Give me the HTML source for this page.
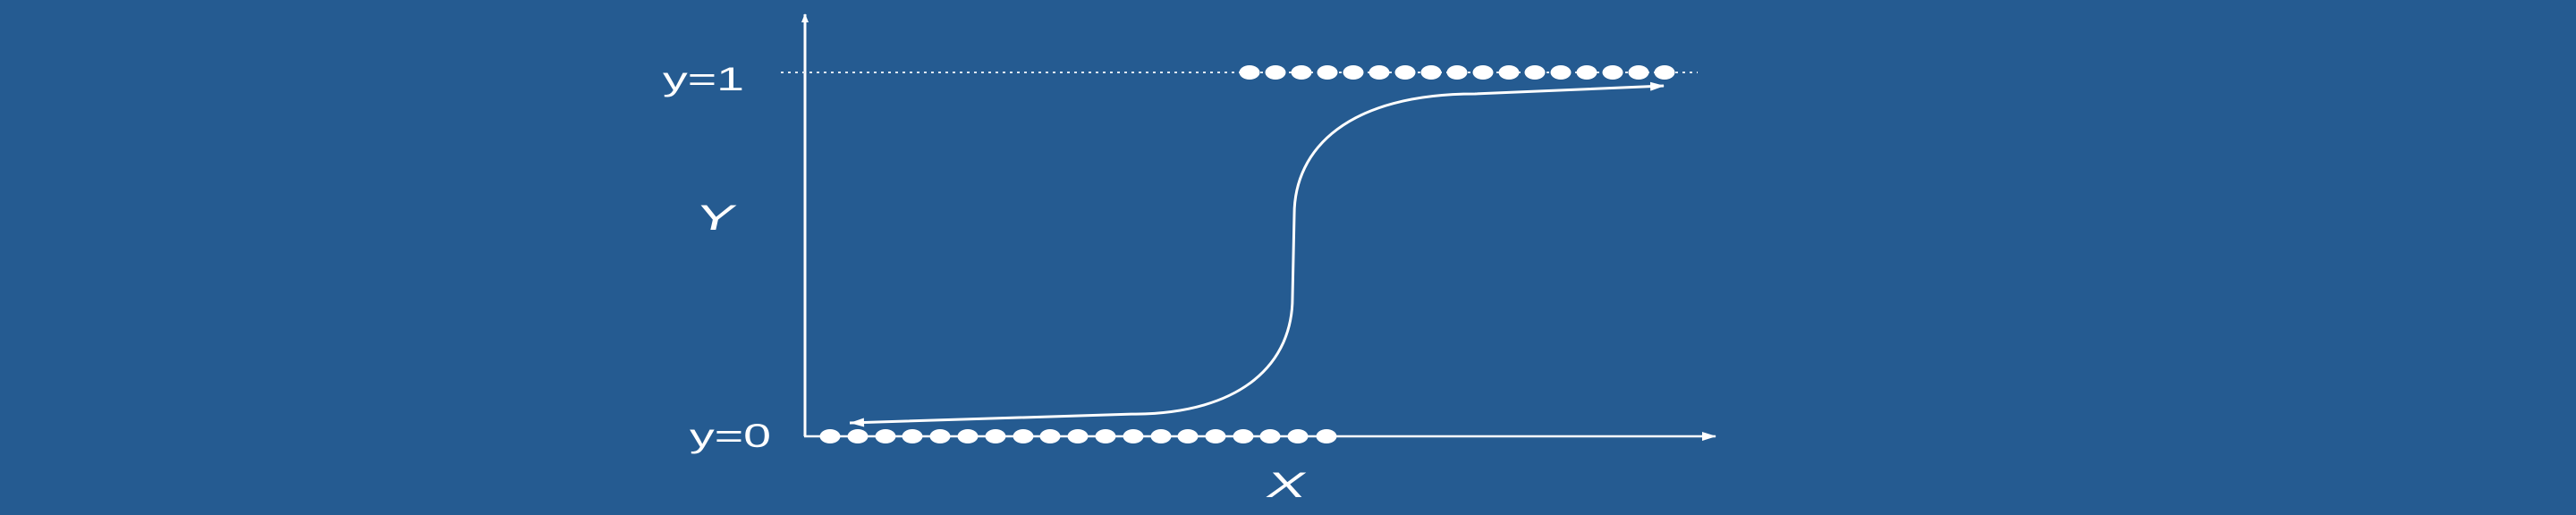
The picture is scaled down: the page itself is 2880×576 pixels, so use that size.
<!DOCTYPE html>
<html><head><meta charset="utf-8"><style>
html,body{margin:0;padding:0;background:#255b91;}
svg{display:block;}
text{font-family:"Liberation Sans",sans-serif;fill:#fff;}
</style></head><body>
<svg id="chart" width="2880" height="576" viewBox="0 0 2880 576" xmlns="http://www.w3.org/2000/svg">
<rect x="0" y="0" width="2880" height="576" fill="#255b91"/>
<defs>
<marker id="ah" markerWidth="10" markerHeight="8" refX="9" refY="4" orient="auto" markerUnits="userSpaceOnUse"><path d="M0,0 L10,4 L0,8 Z" fill="#fff"/></marker>
<marker id="ah2" markerWidth="16" markerHeight="10" refX="15" refY="5" orient="auto" markerUnits="userSpaceOnUse"><path d="M0,0 L16,5 L0,10 Z" fill="#fff"/></marker>
</defs>
<line x1="900" y1="488" x2="900" y2="16" stroke="#fff" stroke-width="3" marker-end="url(#ah)"/>
<line x1="899" y1="488" x2="1918" y2="488" stroke="#fff" stroke-width="2.5" marker-end="url(#ah2)"/>
<line x1="873" y1="81" x2="1898" y2="81" stroke="#dfe8f2" stroke-width="2" stroke-dasharray="3,5"/>
<g id="curve-layer"></g>
<g id="dots-layer"></g>
<text transform="translate(741,101) scale(1.5,1)" font-size="37">y=1</text>
<text transform="translate(776,257) scale(1.6,1) skewX(-8)" font-size="40">Y</text>
<text transform="translate(771,500) scale(1.5,1)" font-size="37">y=0</text>
<text transform="translate(1414,556) scale(1.6,1) skewX(-8)" font-size="40">X</text>
</svg>
<script>
// data (x in data units, y in probability)
const class0X = [2.8,5.9,9.0,12.0,15.1,18.2,21.3,24.4,27.4,30.5,33.6,36.7,39.8,42.8,45.9,49.0,52.0,55.1,58.3];
const class1X = [49.7,52.6,55.5,58.4,61.3,64.2,67.1,70.0,72.9,75.8,78.7,81.6,84.5,87.4,90.3,93.2,96.1];
const curveX = [5.0,36.5,54.5,54.7,74.9,96.0];
const curveY = [0.037,0.061,0.381,0.609,0.941,0.963];

function xScale(v){return 900 + v*10;}
function yScale(p){return 488 - p*407;}
const NS = "http://www.w3.org/2000/svg";
const dots = document.getElementById('dots-layer');
class0X.forEach(function(v){
  const e = document.createElementNS(NS,'ellipse');
  
  
  e.setAttribute('cx', xScale(v)); e.setAttribute('cy', yScale(0));
  e.setAttribute('rx', 11.5); e.setAttribute('ry', 8); e.setAttribute('fill', '#fff');
  dots.appendChild(e);
});
class1X.forEach(function(v){
  const e = document.createElementNS(NS,'ellipse');
  
  
  e.setAttribute('cx', xScale(v)); e.setAttribute('cy', yScale(1));
  e.setAttribute('rx', 11.5); e.setAttribute('ry', 8); e.setAttribute('fill', '#fff');
  dots.appendChild(e);
});
const P = curveX.map(function(v,i){return [xScale(v), yScale(curveY[i])];});
function lerp(a,b,t){return [a[0]+(b[0]-a[0])*t, a[1]+(b[1]-a[1])*t];}
const k1 = [P[2][0], P[1][1]], k2 = [P[3][0], P[4][1]];
const b1 = lerp(P[1], k1, 0.7), b2 = lerp(P[2], k1, 0.55);
const t1 = lerp(P[3], k2, 0.55), t2 = lerp(P[4], k2, 0.7);
const d = 'M'+P[0][0]+','+P[0][1]+' L'+P[1][0]+','+P[1][1]+
  ' C'+b1[0]+','+b1[1]+' '+b2[0]+','+b2[1]+' '+P[2][0]+','+P[2][1]+
  ' L'+P[3][0]+','+P[3][1]+
  ' C'+t1[0]+','+t1[1]+' '+t2[0]+','+t2[1]+' '+P[4][0]+','+P[4][1]+
  ' L'+P[5][0]+','+P[5][1];
const path = document.createElementNS(NS,'path');


path.setAttribute('d', d);
path.setAttribute('fill', 'none');
path.setAttribute('stroke', '#fff');
path.setAttribute('stroke-width', '3');
path.setAttribute('marker-end', 'url(#ah2)');
document.getElementById('curve-layer').appendChild(path);
const a = P[0], b = P[1];
const ang = Math.atan2(a[1]-b[1], a[0]-b[0]);
const head = document.createElementNS(NS,'path');


const L=16, W=5;
const hx1 = a[0]-L*Math.cos(ang)-W*Math.sin(ang), hy1 = a[1]-L*Math.sin(ang)+W*Math.cos(ang);
const hx2 = a[0]-L*Math.cos(ang)+W*Math.sin(ang), hy2 = a[1]-L*Math.sin(ang)-W*Math.cos(ang);
head.setAttribute('d', 'M'+a[0]+','+a[1]+' L'+hx1+','+hy1+' L'+hx2+','+hy2+' Z');
head.setAttribute('fill', '#fff');
document.getElementById('curve-layer').appendChild(head);
</script>
</body></html>
